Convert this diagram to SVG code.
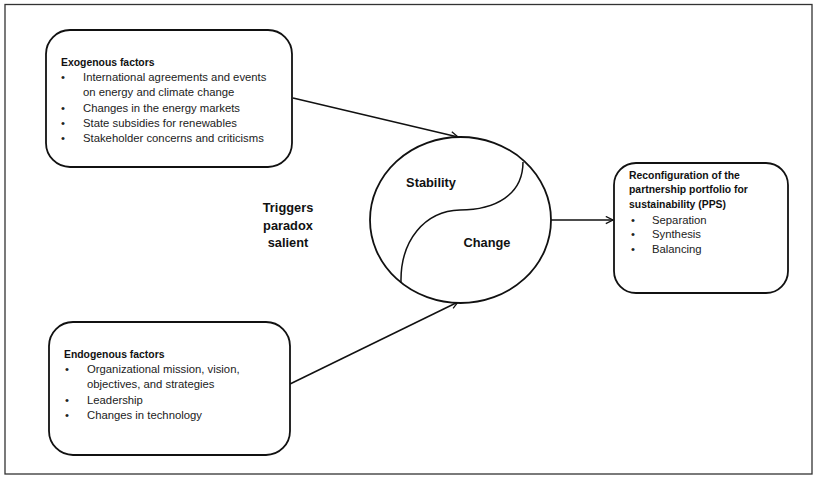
<svg xmlns="http://www.w3.org/2000/svg" width="818" height="478" viewBox="0 0 818 478">
<style>
.box{fill:#fff;stroke:#111;stroke-width:1.8}
.t{font-family:"Liberation Sans",Arial,sans-serif;font-size:11.3px;fill:#222}
.h{font-family:"Liberation Sans",Arial,sans-serif;font-size:10.4px;font-weight:bold;fill:#111}
.b{font-family:"Liberation Sans",Arial,sans-serif;font-size:12.8px;font-weight:bold;fill:#111}
.ln{fill:none;stroke:#111;stroke-width:1.5}
</style>
<defs>
<marker id="arr" viewBox="0 0 10 10" refX="9" refY="5" markerWidth="9" markerHeight="9" markerUnits="userSpaceOnUse" orient="auto">
<path d="M1,1 L9,5 L1,9" fill="none" stroke="#111" stroke-width="1.4"/>
</marker>
</defs>
<rect x="0" y="0" width="818" height="478" fill="#fff"/>
<rect x="5" y="4.5" width="807" height="469.5" fill="none" stroke="#333" stroke-width="1.3"/>
<g id="connectors">
<line class="ln" x1="293" y1="98" x2="458" y2="137" marker-end="url(#arr)"/>
<line class="ln" x1="290" y1="384" x2="458" y2="302" marker-end="url(#arr)"/>
<line class="ln" x1="551" y1="220" x2="613" y2="220" marker-end="url(#arr)"/>
</g>
<g id="exogenous">
<rect class="box" x="46" y="30" width="246" height="137" rx="24"/>
<text class="h" x="61" y="66">Exogenous factors</text>
<text class="t" x="61" y="81">•</text><text class="t" x="83" y="81">International agreements and events</text>
<text class="t" x="83" y="96">on energy and climate change</text>
<text class="t" x="61" y="111.5">•</text><text class="t" x="83" y="111.5">Changes in the energy markets</text>
<text class="t" x="61" y="127">•</text><text class="t" x="83" y="127">State subsidies for renewables</text>
<text class="t" x="61" y="142">•</text><text class="t" x="83" y="142">Stakeholder concerns and criticisms</text>
</g>
<g id="endogenous">
<rect class="box" x="49" y="322" width="241" height="133" rx="24"/>
<text class="h" x="64" y="358">Endogenous factors</text>
<text class="t" x="65" y="373">•</text><text class="t" x="87" y="373">Organizational mission, vision,</text>
<text class="t" x="87" y="388">objectives, and strategies</text>
<text class="t" x="65" y="404">•</text><text class="t" x="87" y="404">Leadership</text>
<text class="t" x="65" y="419">•</text><text class="t" x="87" y="419">Changes in technology</text>
</g>
<g id="triggers">
<text class="b" x="288" y="212" text-anchor="middle">Triggers</text>
<text class="b" x="288" y="230" text-anchor="middle">paradox</text>
<text class="b" x="288" y="247" text-anchor="middle">salient</text>
</g>
<g id="paradox">
<ellipse class="box" cx="460.5" cy="220" rx="90.5" ry="83"/>
<path class="ln" d="M523,162 C523,195 495,210 460,210 C425,211 400,240 401,283"/>
<text class="b" x="431" y="187" text-anchor="middle">Stability</text>
<text class="b" x="487" y="247" text-anchor="middle">Change</text>
</g>
<g id="pps">
<rect class="box" x="614" y="163" width="174" height="130" rx="22"/>
<text class="h" x="629" y="179">Reconfiguration of the</text>
<text class="h" x="629" y="193">partnership portfolio for</text>
<text class="h" x="629" y="208">sustainability (PPS)</text>
<text class="t" x="631" y="224">•</text><text class="t" x="652" y="224">Separation</text>
<text class="t" x="631" y="238">•</text><text class="t" x="652" y="238">Synthesis</text>
<text class="t" x="631" y="253">•</text><text class="t" x="652" y="253">Balancing</text>
</g>
</svg>
